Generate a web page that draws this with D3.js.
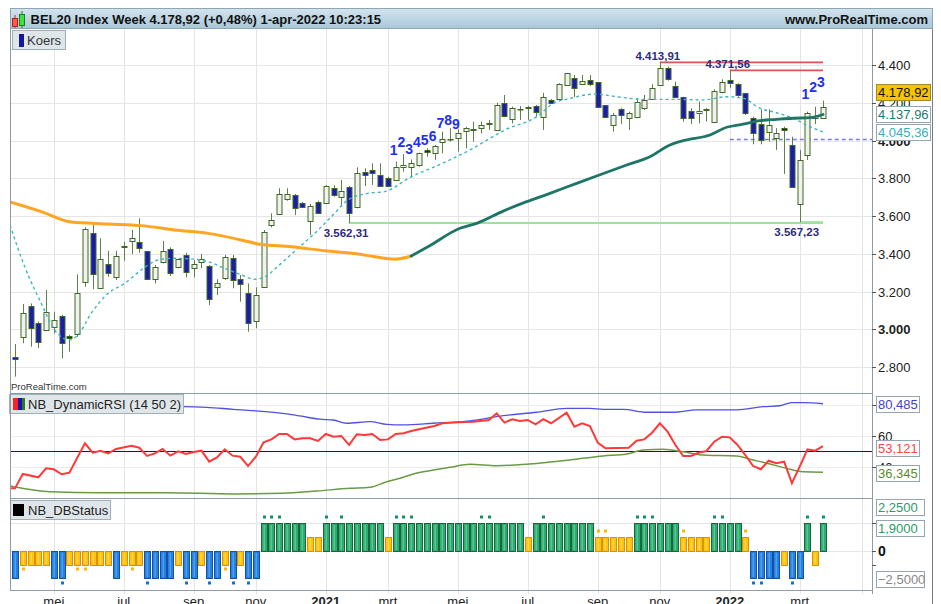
<!DOCTYPE html>
<html><head><meta charset="utf-8">
<script src="https://cdn.jsdelivr.net/npm/d3@7"></script>
<style>body{margin:0;background:#fff}svg{display:block;font-family:"Liberation Sans",Arial,sans-serif}</style>
</head><body><svg id="c" width="941" height="604"></svg>
<script>
// ---------- DATA ----------
const openP=[2852,2957,3125,3032,2996,3010,3070,2966,2975,3249,3512,3220,3344,3278,3441,3468,3461,3415,3265,3358,3425,3328,3393,3323,3358,3335,3222,3270,3376,3265,3194,3045,3225,3552,3611,3689,3711,3670,3575,3676,3667,3747,3699,3752,3646,3835,3844,3817,3800,3791,3858,3858,3870,3950,3935,3994,4006,4012,4052,4056,4068,4089,4056,4197,4112,4165,4174,4184,4126,4215,4218,4294,4330,4299,4321,4310,4188,4082,4165,4121,4126,4171,4218,4294,4383,4289,4229,4158,4144,4167,4096,4255,4321,4298,4250,4118,4086,4043,4012,4065,3976,3664,3923,4118,4118];
const highP=[2922,3134,3137,3040,3208,3093,3076,2970,3291,3540,3561,3482,3416,3416,3464,3526,3588,3416,3340,3468,3434,3374,3405,3367,3399,3340,3265,3393,3393,3287,3243,3222,3526,3614,3747,3747,3717,3674,3664,3681,3764,3764,3791,3759,3858,3853,3879,3879,3808,3888,3928,3900,3935,3959,3976,4047,4065,4059,4073,4100,4100,4109,4200,4241,4179,4183,4183,4188,4253,4220,4303,4358,4347,4347,4347,4310,4188,4146,4171,4153,4224,4241,4298,4413.91,4391,4312,4232,4171,4206,4171,4271,4324,4371.56,4303,4253,4126,4165,4165,4065,4073,4020,3950,4153,4179,4211];
const lowP=[2749,2926,2908,2899,2992,2978,2846,2881,2960,3225,3212,3217,3278,3261,3363,3399,3405,3261,3243,3349,3282,3323,3275,3275,3323,3128,3181,3261,3217,3146,2987,3005,3222,3540,3605,3681,3605,3646,3499,3614,3664,3702,3649,3562.31,3641,3759,3764,3755,3755,3791,3835,3805,3861,3914,3897,3932,3994,3941,3959,3994,4038,4056,4052,4123,4091,4109,4109,4126,4056,4193,4215,4289,4230,4294,4289,4172,4118,4047,4087,4056,4118,4162,4215,4289,4317,4224,4100,4087,4091,4100,4094,4250,4277,4232,4135,3980,3980,3994,3950,3823,3755,3567.23,3897,4087,4118];
const closeP=[2845,3088,3005,2934,3093,3049,2926,2954,3194,3531,3291,3371,3297,3388,3434,3482,3429,3265,3331,3415,3296,3371,3302,3344,3371,3159,3243,3381,3261,3238,3035,3181,3514,3579,3717,3717,3641,3649,3655,3618,3759,3711,3734,3618,3826,3817,3826,3759,3759,3858,3870,3879,3932,3941,3971,4006,4008,4041,4065,4059,4082,4091,4188,4130,4174,4167,4176,4153,4229,4197,4298,4356,4277,4315,4299,4178,4126,4135,4135,4144,4206,4215,4277,4383,4324,4229,4118,4118,4156,4163,4264,4312,4306,4241,4144,4041,4003,4082,4041,4057,3755,3897,4144,4130,4178.92];

// long moving average [bar index, value]: orange while falling, teal while rising
const maLongFalling=[[-0.64,3674],[3.38,3623],[7.25,3568],[11.97,3558],[16.25,3549],[20.55,3526],[24.84,3508],[29.12,3473],[31.27,3452],[35.56,3437],[39.86,3416],[44.14,3399],[46.29,3384],[48.87,3371],[51,3388]];
const maLongRising=[[51,3388],[53.15,3437],[57.27,3535],[59.42,3561],[62.84,3626],[65.86,3676],[68.85,3720],[72.29,3773],[74.86,3812],[78.73,3870],[81.72,3914],[84.3,3976],[86,3999],[89.45,4029],[91.6,4070],[93.73,4087],[95.9,4105],[98.03,4112],[100.17,4118],[102.3,4121],[104,4137.96]];
// short moving average (dashed)
const maShort=[[-0.64,3552],[1.25,3331],[3.38,3137],[5.11,2996],[7.04,2943],[8.11,2970],[9.82,3085],[11.97,3190],[14.12,3243],[16.25,3314],[18.4,3367],[20.55,3376],[23.13,3371],[24.84,3358],[26.99,3323],[29.12,3288],[30.85,3265],[32.14,3278],[34.27,3349],[36.42,3429],[38.57,3508],[40.71,3596],[42.86,3685],[45.43,3720],[47.58,3729],[50.84,3804],[55.12,3881],[58.56,3950],[63.06,4056],[67.3,4130],[69.28,4197],[71.17,4220],[74.65,4246],[77.44,4232],[80.86,4218],[85.16,4218],[88.58,4215],[91.6,4232],[93.73,4224],[95.88,4171],[98.03,4147],[100.17,4118],[102.32,4073],[104,4045.36]];

const resistLevels=[{i:83,v:4413.91},{i:92,v:4371.56}];
const supportLevels=[{i:43,v:3562.31},{i:101,v:3567.23}];
const dashedLevel={i:92,v:4006};
const tdLabels=[{i:49,n:"1",v:3950},{i:50,n:"2",v:3997},{i:51,n:"3",v:3960},{i:52,n:"4",v:3997},{i:53,n:"5",v:4003},{i:54,n:"6",v:4029},{i:55,n:"7",v:4096},{i:56,n:"8",v:4109},{i:57,n:"9",v:4091},{i:102,n:"1",v:4250},{i:103,n:"2",v:4285},{i:104,n:"3",v:4312}];

const priceTicks=[2800,3000,3200,3400,3600,3800,4000,4200,4400];
const monthIdx=[5,14,23,31,40,48,57,66,75,83,92,101,109];
const monthLabels=["mei","jul","sep","nov","2021","mrt","mei","jul","sep","nov","2022","mrt",""];
const rsiTicks=[60,40];

// Dynamic RSI [bar index, value]
const rsiLine=[[-0.64,25.9],[0,25.9],[1,35.2],[3,33.0],[4,38.8],[5,38.2],[6,35.0],[7,36.0],[9,55.0],[10,48.9],[11,50.2],[12,48.5],[13,51.3],[15,53.4],[16,52.1],[17,46.8],[18,48.5],[19,51.3],[20,47.0],[21,49.8],[22,48.1],[23,49.4],[24,50.2],[25,43.1],[26,45.9],[27,51.1],[28,47.0],[29,46.3],[30,40.3],[31,46.3],[32,55.6],[33,57.5],[34,61.0],[35,61.0],[36,57.5],[37,58.2],[38,58.2],[39,56.5],[40,61.0],[41,59.2],[42,59.7],[43,53.9],[44,60.8],[45,60.3],[46,61.0],[47,57.1],[48,57.5],[49,61.0],[50,61.4],[51,62.9],[52,64.0],[54,66.1],[55,67.9],[57,68.5],[59,68.9],[61,70.0],[62,74.3],[63,68.3],[64,70.5],[65,69.4],[66,70.0],[67,67.2],[68,70.6],[69,67.9],[71,74.7],[72,65.7],[73,67.9],[74,66.1],[75,55.4],[76,51.7],[79,52.1],[80,56.6],[81,57.5],[82,61.8],[83,67.9],[84,62.5],[85,53.9],[86,46.8],[87,46.8],[88,48.9],[89,50.0],[90,56.0],[91,59.2],[92,58.8],[93,53.9],[94,47.4],[95,40.3],[96,38.2],[97,43.7],[98,42.1],[99,43.1],[100,29.2],[101,39.9],[102,51.1],[103,50.2],[104,53.121]];
const rsiUpper=[[-0.64,78.5],[21.66,78.6],[24.67,78.2],[28.1,76.9],[30.67,76.0],[34.97,73.9],[36.68,72.6],[39.25,70.5],[40.97,70.0],[42.69,67.9],[45.69,68.9],[47.84,67.2],[49.97,66.8],[53.84,67.9],[58.56,69.5],[62.84,72.8],[67.14,75.0],[71,77.5],[74,77.5],[75.71,76.9],[78.29,76.9],[81.3,75.0],[84.72,75.0],[87.73,76.5],[92.88,76.5],[96.3,78.6],[98.46,79.2],[99.96,81.2],[101.45,81.2],[104,80.485]];
const rsiLower=[[-0.64,27.4],[0,26.8],[2.36,24.8],[4.5,23.7],[10.94,23.1],[19.52,23.1],[28.1,22.3],[34.53,22.7],[38.83,24.2],[43.11,25.9],[45.69,26.6],[47.84,30.2],[49.55,32.4],[51.26,35.2],[53.84,37.7],[55.98,39.5],[58.56,41.4],[62,40.5],[66.28,41.6],[69.28,43.1],[71.43,44.2],[75.71,46.8],[78.73,48.1],[80.86,50.6],[83.43,51.1],[86,49.5],[88.58,47.4],[92.88,46.8],[95.02,44.2],[97.17,41.6],[99.32,38.8],[101.45,36.6],[104,36.345]];

// DB status per bar (2 green, 1 yellow up, -1 yellow down, -2 blue) and marker flags
const dbStatus=[-2,-1,-1,-1,-1,-2,-2,-1,-1,-1,-1,-1,-1,-2,-1,-1,-1,-2,-2,-2,-2,-1,-2,-2,-1,-2,-2,-1,-2,-1,-2,-2,
2,2,2,2,2,2,1,1,2,2,2,2,2,2,2,2,1,2,2,2,2,2,2,2,2,2,2,
2,2,2,2,2,2,2,1,2,2,2,2,2,2,2,2,1,1,1,1,1,2,2,2,2,2,2,1,1,1,1,2,2,2,2,1,-2,-2,-2,-2,-1,-2,-2,2,-1,2];
const dbMarkIdx=[1,6,8,9,15,17,22,25,27,28,30,32,33,34,40,42,49,50,51,60,61,68,75,76,80,81,82,86,90,91,94,95,96,100,102,104];
const dbLevels=[2.25,1.9,-2.5];

// ---------- DRAW ----------
const loc=d3.formatLocale({decimal:",",thousands:".",grouping:[3],currency:["",""]});
const f0=loc.format(",.0f"), f2=loc.format(",.2f"), f3=loc.format(".3f"), f4=loc.format(".4f");
const svg=d3.select("#c");
const L=10,R=872,AX=932;
const mainT=29,mainB=393,rsiB=498,dbB=590;
const x=d3.scaleLinear().domain([0,104]).range([15,823]);
const y=d3.scaleLinear().domain([2800,4400]).range([367,65]);
const yr=d3.scaleLinear().domain([20,80]).range([497.5,404.5]);
const yd=d3.scaleLinear().domain([-2,2]).range([578.4,523]);
const defs=svg.append("defs");
const hg=defs.append("linearGradient").attr("id","hg").attr("x1",0).attr("x2",0).attr("y1",0).attr("y2",1);
hg.append("stop").attr("offset","0").attr("stop-color","#d3e4ee");
hg.append("stop").attr("offset","1").attr("stop-color","#a9c7d7");
[["cm",mainT,mainB],["cr",mainB,rsiB],["cd",rsiB,dbB]].forEach(([id,t,b])=>{
  defs.append("clipPath").attr("id",id).append("rect").attr("x",L).attr("y",t).attr("width",R-L).attr("height",b-t);
});
svg.append("rect").attr("width",941).attr("height",604).attr("fill","#fff");

// vertical month grid
const gx=svg.append("g");
monthIdx.forEach(i=>{
  const xx=Math.round(x(i))+0.5;
  gx.append("line").attr("x1",xx).attr("x2",xx).attr("y1",mainT).attr("y2",dbB+4).attr("stroke","#e4e4e4");
});
// horizontal grids
priceTicks.forEach(v=>{
  const yy=Math.round(y(v))+0.5;
  svg.append("line").attr("x1",L).attr("x2",R).attr("y1",yy).attr("y2",yy).attr("stroke","#e6e6e6");
});
[80,60,40].forEach(v=>{const yy=Math.round(yr(v))+0.5;svg.append("line").attr("x1",L).attr("x2",R).attr("y1",yy).attr("y2",yy).attr("stroke","#ececec");});
[2,0].forEach(v=>{const yy=Math.round(yd(v))+0.5;svg.append("line").attr("x1",L).attr("x2",R).attr("y1",yy).attr("y2",yy).attr("stroke","#e6e6e6");});

// main panel
const gm=svg.append("g").attr("clip-path","url(#cm)");
supportLevels.forEach(s=>{
  gm.append("line").attr("x1",x(s.i)).attr("x2",x(104)).attr("y1",y(s.v)).attr("y2",y(s.v)).attr("stroke","#9be39b").attr("stroke-width",2);
});
resistLevels.forEach(s=>{
  gm.append("line").attr("x1",x(s.i)).attr("x2",x(104)).attr("y1",y(s.v)).attr("y2",y(s.v)).attr("stroke","#d9555a").attr("stroke-width",1.6);
});
gm.append("line").attr("x1",x(dashedLevel.i)).attr("x2",R).attr("y1",Math.round(y(dashedLevel.v))+0.5).attr("y2",Math.round(y(dashedLevel.v))+0.5)
  .attr("stroke","#7a7ae6").attr("stroke-width",1.3).attr("stroke-dasharray","4,3");

// candles
const idx=d3.range(openP.length);
const cg=gm.append("g");
idx.forEach(i=>{
  const cx=Math.round(x(i))+0.5;
  const o=openP[i],c=closeP[i],up=c>=o;
  cg.append("line").attr("x1",cx).attr("x2",cx).attr("y1",y(highP[i])).attr("y2",y(lowP[i])).attr("stroke","#5f8048").attr("stroke-width",1);
  const top=Math.round(y(Math.max(o,c))), bot=Math.round(y(Math.min(o,c)));
  cg.append("rect").attr("x",cx-2.5).attr("y",top+0.5).attr("width",5).attr("height",Math.max(0.5,bot-top))
    .attr("fill",up?"#f1f2ef":"#1c1cab").attr("stroke","#3f6a25").attr("stroke-width",1);
});

// moving averages
const line=d3.line().x(d=>x(d[0])).y(d=>y(d[1])).curve(d3.curveMonotoneX);
gm.append("path").attr("d",line(maShort)).attr("fill","none").attr("stroke","#3fb7bd").attr("stroke-width",1.4).attr("stroke-dasharray","3,3");
gm.append("path").attr("d",line(maLongFalling)).attr("fill","none").attr("stroke","#ffa523").attr("stroke-width",3).attr("stroke-linecap","round");
gm.append("path").attr("d",line(maLongRising)).attr("fill","none").attr("stroke","#1e7568").attr("stroke-width",2.8).attr("stroke-linecap","round");

// level labels
resistLevels.forEach(s=>{
  gm.append("text").attr("x",x(s.i)-2).attr("y",y(s.v)-2.5).attr("text-anchor","middle").attr("font-size",11.5).attr("font-weight","bold").attr("fill","#2d2d80").text(f2(s.v));
});
supportLevels.forEach(s=>{
  gm.append("text").attr("x",x(s.i)-3).attr("y",y(s.v)+14).attr("text-anchor","middle").attr("font-size",11.5).attr("font-weight","bold").attr("fill","#2d2d80").text(f2(s.v));
});
// TD counts
tdLabels.forEach(t=>{
  gm.append("text").attr("x",x(t.i)-2).attr("y",y(t.v)+5.5).attr("text-anchor","middle").attr("font-size",14).attr("font-weight","bold").attr("fill","#2030ee").text(t.n);
});
gm.append("text").attr("x",11).attr("y",390).attr("font-size",9.5).attr("fill","#333").text("ProRealTime.com");

// legend Koers
svg.append("rect").attr("x",12.5).attr("y",30.5).attr("width",53).attr("height",19).attr("fill","#dfe6ea").attr("stroke","#a0b0ba");
svg.append("rect").attr("x",19).attr("y",34).attr("width",5).attr("height",13).attr("fill","#15159e");
svg.append("text").attr("x",27).attr("y",45).attr("font-size",13).attr("fill","#333").text("Koers");

// RSI panel
const gr=svg.append("g").attr("clip-path","url(#cr)");
const rl=d3.line().x(d=>x(d[0])).y(d=>yr(d[1])).curve(d3.curveLinear);
const rlS=d3.line().x(d=>x(d[0])).y(d=>yr(d[1])).curve(d3.curveMonotoneX);
gr.append("line").attr("x1",L).attr("x2",R).attr("y1",Math.round(yr(50))+0.5).attr("y2",Math.round(yr(50))+0.5).attr("stroke","#3a1030").attr("stroke-width",1);
gr.append("path").attr("d",rlS(rsiUpper)).attr("fill","none").attr("stroke","#5050e4").attr("stroke-width",1.3);
gr.append("path").attr("d",rlS(rsiLower)).attr("fill","none").attr("stroke","#6a9a45").attr("stroke-width",1.5);
gr.append("path").attr("d",rl(rsiLine)).attr("fill","none").attr("stroke","#ff3838").attr("stroke-width",2);
svg.append("rect").attr("x",9.5).attr("y",394.5).attr("width",174).attr("height",19).attr("fill","#dfe6ea").attr("stroke","#a0b0ba");
svg.append("rect").attr("x",13).attr("y",398).attr("width",5).attr("height",12).attr("fill","#ff2020");
svg.append("rect").attr("x",18).attr("y",398).attr("width",4).attr("height",12).attr("fill","#1414b0");
svg.append("rect").attr("x",22).attr("y",398).attr("width",3).attr("height",12).attr("fill","#2a7a1a");
svg.append("text").attr("x",28).attr("y",409).attr("font-size",13).attr("fill","#222").text("NB_DynamicRSI (14 50 2)");

// DB panel
const gd=svg.append("g").attr("clip-path","url(#cd)");
const dbCol={"2":["#2eab6f","#17683f","#63cf9a"],"1":["#ffc20e","#d49500","#ffd95a"],"-1":["#ffc20e","#d49500","#ffd95a"],"-2":["#2481e2","#1251a6","#5aa6f0"]};
dbStatus.forEach((v,i)=>{
  const cx=Math.round(x(i));
  const t=Math.round(Math.min(yd(0),yd(v))), b=Math.round(Math.max(yd(0),yd(v)));
  const col=dbCol[String(v)];
  gd.append("rect").attr("x",cx-2.5).attr("y",t+0.5).attr("width",6).attr("height",b-t).attr("fill",col[0]).attr("stroke",col[1]);
  gd.append("rect").attr("x",cx-0.5).attr("y",t+2).attr("width",1.5).attr("height",Math.max(0,b-t-3)).attr("fill",col[2]).attr("opacity",0.8);
});
dbMarkIdx.forEach(i=>{
  const v=dbStatus[i];
  const mv=v>0?v+0.42:v-0.3;
  const col=v===2?"#15925a":(Math.abs(v)===1?"#ffb800":"#1470d0");
  gd.append("rect").attr("x",Math.round(x(i))-1).attr("y",Math.round(yd(mv))-1.5).attr("width",3).attr("height",3).attr("fill",col);
});
svg.append("rect").attr("x",10.5).attr("y",500.5).attr("width",100).attr("height",19).attr("fill","#dfe6ea").attr("stroke","#a0b0ba");
svg.append("rect").attr("x",13).attr("y",504).attr("width",11).attr("height",12).attr("fill","#000");
svg.append("text").attr("x",28).attr("y",515).attr("font-size",13).attr("fill","#222").text("NB_DBStatus");

// frames
const fr="#8d9ca6";
svg.append("line").attr("x1",L+0.5).attr("x2",L+0.5).attr("y1",mainT).attr("y2",dbB).attr("stroke",fr);
svg.append("line").attr("x1",R+0.5).attr("x2",R+0.5).attr("y1",mainT).attr("y2",dbB+4).attr("stroke",fr);
[mainB,rsiB,dbB].forEach(yy=>svg.append("line").attr("x1",L).attr("x2",R).attr("y1",yy+0.5).attr("y2",yy+0.5).attr("stroke",fr));
svg.append("line").attr("x1",AX+0.5).attr("x2",AX+0.5).attr("y1",8).attr("y2",604).attr("stroke","#6d7c86");

// header
svg.append("rect").attr("x",L+0.5).attr("y",8.5).attr("width",AX-L).attr("height",20).attr("fill","url(#hg)").attr("stroke","#8ea5b3");
svg.append("line").attr("x1",15).attr("x2",15).attr("y1",15).attr("y2",28).attr("stroke","#c03030");
svg.append("rect").attr("x",12.5).attr("y",18.5).attr("width",5).attr("height",8).attr("fill","#ff5a4a").attr("stroke","#b02020");
svg.append("line").attr("x1",22).attr("x2",22).attr("y1",11).attr("y2",28).attr("stroke","#208020");
svg.append("rect").attr("x",19.5).attr("y",14.5).attr("width",5).attr("height",11).attr("fill","#40e040").attr("stroke","#208020");
svg.append("text").attr("x",30.5).attr("y",24).attr("font-size",13).attr("font-weight","bold").attr("fill","#111")
  .text(`BEL20 Index Week ${f2(closeP[closeP.length-1])} (+0,48%) 1-apr-2022 10:23:15`);
svg.append("text").attr("x",928).attr("y",24).attr("text-anchor","end").attr("font-size",13).attr("font-weight","bold").attr("fill","#111").text("www.ProRealTime.com");

// right axis: price
priceTicks.forEach(v=>{
  const yy=Math.round(y(v))+0.5;
  svg.append("line").attr("x1",R).attr("x2",R+4).attr("y1",yy).attr("y2",yy).attr("stroke","#555");
  svg.append("text").attr("x",878).attr("y",yy+4.5).attr("font-size",13).attr("font-weight",v%1000===0?"bold":"normal").attr("fill","#222").text(f0(v));
});
function box(cy,txt,fg,bg,bd,w){
  svg.append("rect").attr("x",876.5).attr("y",Math.round(cy-8)+0.5).attr("width",w).attr("height",16).attr("fill",bg).attr("stroke",bd);
  svg.append("text").attr("x",878).attr("y",Math.round(cy-8)+13).attr("font-size",13).attr("fill",fg).text(txt);
}
const lastC=closeP[closeP.length-1], lastL=maLongRising[maLongRising.length-1][1], lastS=maShort[maShort.length-1][1];
box(y(lastS),f2(lastS),"#3aaeb6","#fff","#96a6b0",54);
box(y(lastL),f2(lastL),"#1e7a70","#fff","#96a6b0",54);
box(Math.min(y(lastC),y(lastL)-22),f2(lastC),"#111","#f6c400","#a08a30",54);

// right axis: RSI
[80,60,40].forEach(v=>{
  const yy=Math.round(yr(v))+0.5;
  svg.append("line").attr("x1",R).attr("x2",R+4).attr("y1",yy).attr("y2",yy).attr("stroke","#555");
});
rsiTicks.forEach(v=>{
  const yy=Math.round(yr(v))+0.5;
  svg.append("text").attr("x",878).attr("y",yy+4.5).attr("font-size",13).attr("fill","#222").text(v);
});
const rsiLast=rsiLine[rsiLine.length-1][1], upLast=rsiUpper[rsiUpper.length-1][1], loLast=rsiLower[rsiLower.length-1][1];
box(yr(upLast),f3(upLast),"#4040d8","#fff","#96a6b0",43);
box(yr(rsiLast)+1.5,f3(rsiLast),"#ff4545","#fff","#96a6b0",43);
box(yr(loLast)+1,f3(loLast),"#5b8a32","#fff","#96a6b0",43);

// right axis: DB
[2,0,-1].forEach(v=>{
  const yy=Math.round(yd(v))+0.5;
  svg.append("line").attr("x1",R).attr("x2",R+4).attr("y1",yy).attr("y2",yy).attr("stroke","#555");
});
svg.append("text").attr("x",878).attr("y",yd(0)+5).attr("font-size",14).attr("font-weight","bold").attr("fill","#111").text("0");
svg.append("rect").attr("x",876.5).attr("y",500.5).attr("width",10).attr("height",11).attr("fill","#fff").attr("stroke","#96a6b0");
svg.append("text").attr("x",878).attr("y",511).attr("font-size",13).attr("fill","#555").text("2");
box(yd(dbLevels[1])-17,f4(dbLevels[0]),"#2a9a68","#fff","#96a6b0",48);
box(yd(dbLevels[1])+4,f4(dbLevels[1]),"#2a9a68","#fff","#96a6b0",48);
box(Math.min(yd(dbLevels[2]),dbB-11),f4(dbLevels[2]),"#888","#fff","#96a6b0",48);

// x axis labels
monthIdx.forEach((i,k)=>{
  const lab=monthLabels[k]; if(!lab) return;
  svg.append("text").attr("x",x(i)).attr("y",606).attr("text-anchor","middle").attr("font-size",13)
    .attr("font-weight",/^\d{4}$/.test(lab)?"bold":"normal").attr("fill","#222").text(lab);
});
</script></body></html>
